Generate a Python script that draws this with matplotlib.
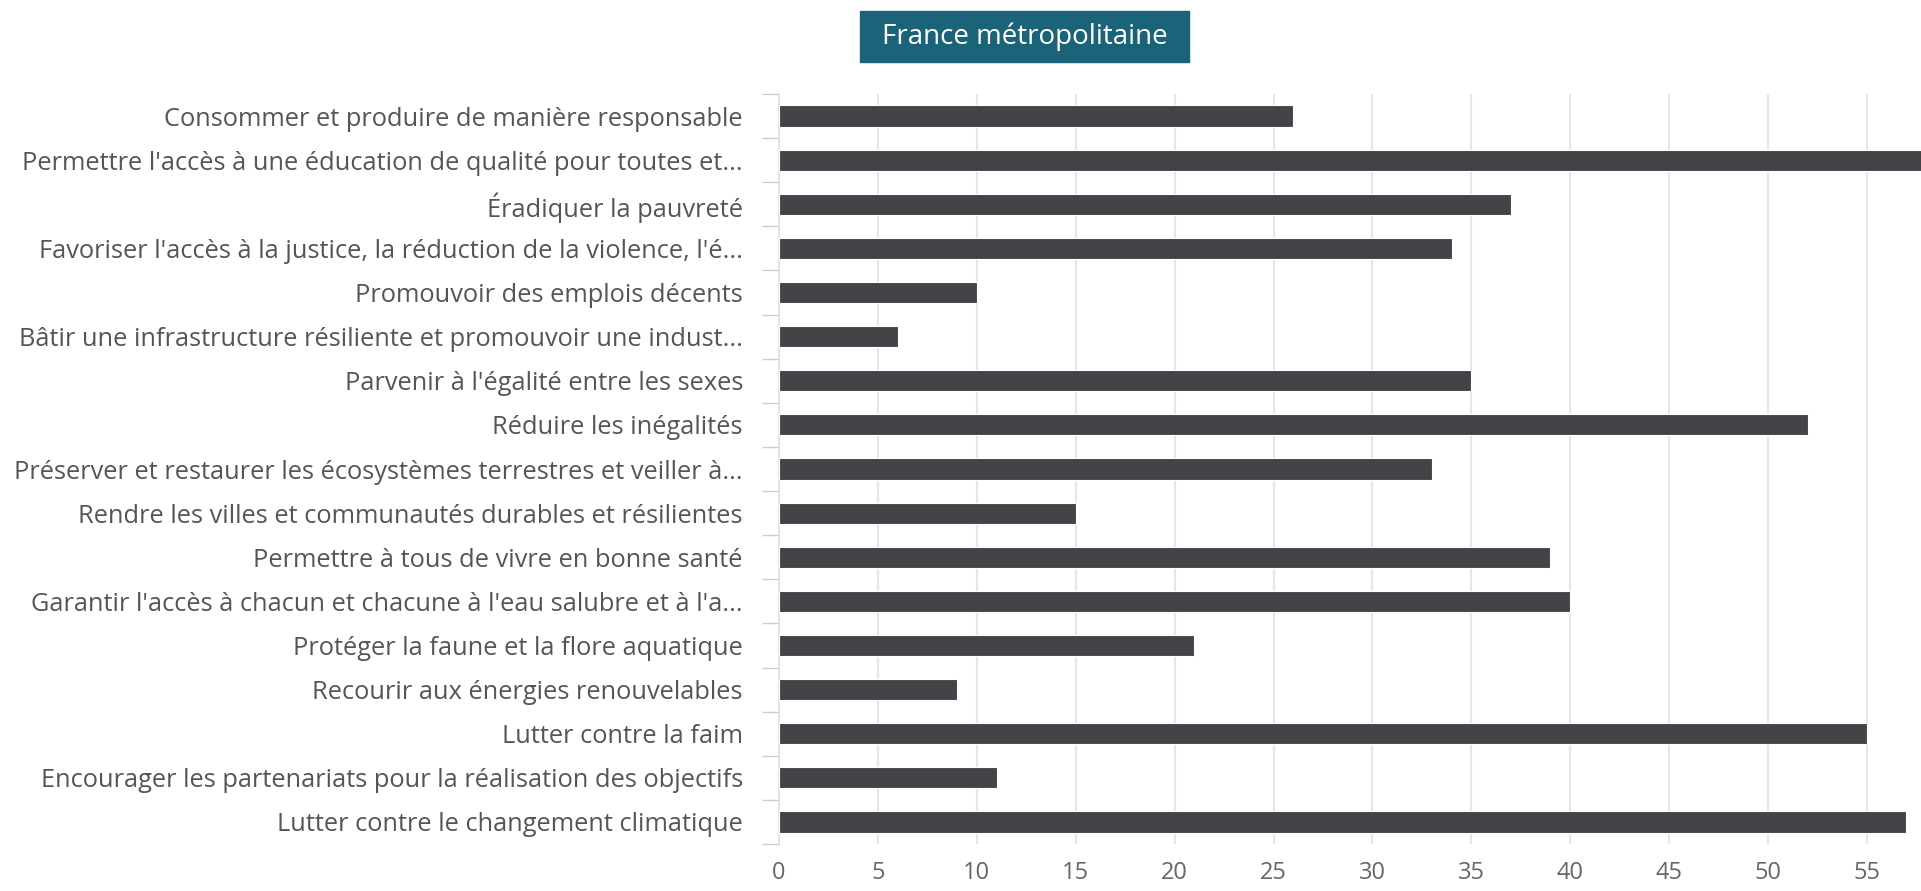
import numpy as np
import matplotlib
matplotlib.use("Agg")
import matplotlib.pyplot as plt
from matplotlib.patches import Rectangle

plt.rcParams["font.family"] = ["Open Sans", "DejaVu Sans"]

categories = [
    "Consommer et produire de manière responsable",
    "Permettre l'accès à une éducation de qualité pour toutes et...",
    "Éradiquer la pauvreté",
    "Favoriser l'accès à la justice, la réduction de la violence, l'é...",
    "Promouvoir des emplois décents",
    "Bâtir une infrastructure résiliente et promouvoir une indust...",
    "Parvenir à l'égalité entre les sexes",
    "Réduire les inégalités",
    "Préserver et restaurer les écosystèmes terrestres et veiller à...",
    "Rendre les villes et communautés durables et résilientes",
    "Permettre à tous de vivre en bonne santé",
    "Garantir l'accès à chacun et chacune à l'eau salubre et à l'a...",
    "Protéger la faune et la flore aquatique",
    "Recourir aux énergies renouvelables",
    "Lutter contre la faim",
    "Encourager les partenariats pour la réalisation des objectifs",
    "Lutter contre le changement climatique",
]
values = [26, 59, 37, 34, 10, 6, 35, 52, 33, 15, 39, 40, 21, 9, 55, 11, 57]
xticks = [0, 5, 10, 15, 20, 25, 30, 35, 40, 45, 50, 55]
title = "France métropolitaine"

W, H = 1921, 891
fig = plt.figure(figsize=(W / 100, H / 100), dpi=100)
ax = fig.add_axes([779 / W, 1 - 844 / H, 1 - 779 / W, (844 - 94) / H])

y = np.arange(len(categories))
ax.barh(y, values, height=0.48, color="#434348", edgecolor="white", linewidth=0.8, zorder=3)

ax.set_xlim(0, (W - 779) / 19.78)
ax.set_ylim(len(categories) - 0.5, -0.5)

ax.set_xticks(xticks)
ax.set_xticklabels([str(t) for t in xticks])
ax.set_yticks(y)
ax.set_yticklabels(categories)
ax.set_yticks(np.arange(len(categories) + 1) - 0.5, minor=True)

ax.grid(axis="x", color="#e6e6e6", linewidth=1.5, zorder=0)
ax.tick_params(axis="x", length=0, pad=12, labelsize=17, labelcolor="#666666")
ax.tick_params(axis="y", which="major", length=0, pad=26, labelsize=18.3, labelcolor="#555555")
ax.tick_params(axis="y", which="minor", length=12, width=1.0, color="#cccccc")

for s in ["top", "right", "bottom"]:
    ax.spines[s].set_visible(False)
ax.spines["left"].set_color("#e0e0e0")
ax.spines["left"].set_linewidth(1.2)

# titre dans un encadré
fig.patches.append(Rectangle((860 / W, 1 - 62 / H), 329 / W, 51 / H,
                             transform=fig.transFigure, color="#1b6378", zorder=5))
fig.text(1024.5 / W, 1 - 36.5 / H, title, color="white", fontsize=20,
         ha="center", va="center", zorder=6)

fig.savefig("out.png", dpi=100)
